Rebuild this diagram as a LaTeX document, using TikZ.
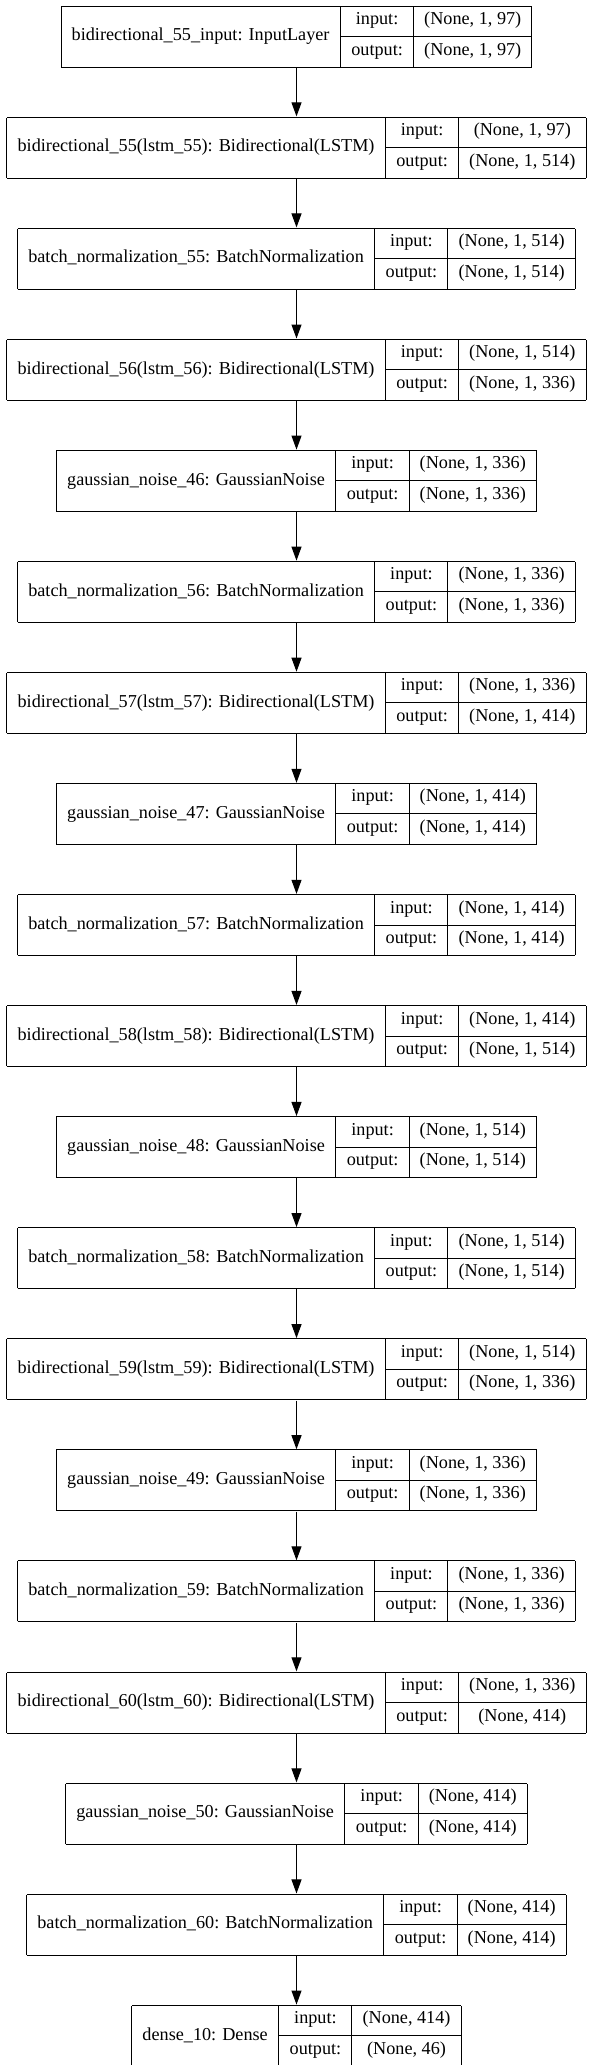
\documentclass[tikz,border=0pt]{standalone}
\usepackage{fontspec}
\setmainfont{Liberation Serif}
\usepackage{tikz}
\usetikzlibrary{positioning,arrows.meta}

\setlength{\tabcolsep}{10.67bp}
\setlength{\arrayrulewidth}{1bp}
\newcommand{\rowstrut}{\rule[-11.5bp]{0pt}{29.5bp}}
\newcommand{\layerbox}[3]{%
  \begin{tabular}{|c|@{}c@{}|}\hline
    #1 & \begin{tabular}{c|c}
      \rowstrut input: & #2\\\hline
      \rowstrut output: & #3
    \end{tabular}\\\hline
  \end{tabular}}

\begin{document}
\begin{tikzpicture}[node distance=48.67bp,
    layer/.style={inner sep=0pt, font=\fontsize{18.2bp}{21.8bp}\selectfont},
    flow/.style={-{Triangle[length=14bp,width=10bp]}, line width=1bp}]
  \useasboundingbox (0,0) rectangle (592bp,-2065bp);
  % input layer
  \node[layer] (in1) at (296.5bp,-36.5bp) {\layerbox{bidirectional\_55\_input: InputLayer}{(None, 1, 97)}{(None, 1, 97)}};
  \node[layer, below=of in1] (bd55) {\layerbox{bidirectional\_55(lstm\_55): Bidirectional(LSTM)}{(None, 1, 97)}{(None, 1, 514)}};
  \node[layer, below=of bd55] (bn55) {\layerbox{batch\_normalization\_55: BatchNormalization}{(None, 1, 514)}{(None, 1, 514)}};
  \node[layer, below=of bn55] (bd56) {\layerbox{bidirectional\_56(lstm\_56): Bidirectional(LSTM)}{(None, 1, 514)}{(None, 1, 336)}};
  \node[layer, below=of bd56] (gn46) {\layerbox{gaussian\_noise\_46: GaussianNoise}{(None, 1, 336)}{(None, 1, 336)}};
  \node[layer, below=of gn46] (bn56) {\layerbox{batch\_normalization\_56: BatchNormalization}{(None, 1, 336)}{(None, 1, 336)}};
  \node[layer, below=of bn56] (bd57) {\layerbox{bidirectional\_57(lstm\_57): Bidirectional(LSTM)}{(None, 1, 336)}{(None, 1, 414)}};
  \node[layer, below=of bd57] (gn47) {\layerbox{gaussian\_noise\_47: GaussianNoise}{(None, 1, 414)}{(None, 1, 414)}};
  \node[layer, below=of gn47] (bn57) {\layerbox{batch\_normalization\_57: BatchNormalization}{(None, 1, 414)}{(None, 1, 414)}};
  \node[layer, below=of bn57] (bd58) {\layerbox{bidirectional\_58(lstm\_58): Bidirectional(LSTM)}{(None, 1, 414)}{(None, 1, 514)}};
  \node[layer, below=of bd58] (gn48) {\layerbox{gaussian\_noise\_48: GaussianNoise}{(None, 1, 514)}{(None, 1, 514)}};
  \node[layer, below=of gn48] (bn58) {\layerbox{batch\_normalization\_58: BatchNormalization}{(None, 1, 514)}{(None, 1, 514)}};
  \node[layer, below=of bn58] (bd59) {\layerbox{bidirectional\_59(lstm\_59): Bidirectional(LSTM)}{(None, 1, 514)}{(None, 1, 336)}};
  \node[layer, below=of bd59] (gn49) {\layerbox{gaussian\_noise\_49: GaussianNoise}{(None, 1, 336)}{(None, 1, 336)}};
  \node[layer, below=of gn49] (bn59) {\layerbox{batch\_normalization\_59: BatchNormalization}{(None, 1, 336)}{(None, 1, 336)}};
  \node[layer, below=of bn59] (bd60) {\layerbox{bidirectional\_60(lstm\_60): Bidirectional(LSTM)}{(None, 1, 336)}{(None, 414)}};
  \node[layer, below=of bd60] (gn50) {\layerbox{gaussian\_noise\_50: GaussianNoise}{(None, 414)}{(None, 414)}};
  \node[layer, below=of gn50] (bn60) {\layerbox{batch\_normalization\_60: BatchNormalization}{(None, 414)}{(None, 414)}};
  % output
  \node[layer, below=of bn60] (dense10) {\layerbox{dense\_10: Dense}{(None, 414)}{(None, 46)}};

  \draw[flow] (in1) -- (bd55);
  \draw[flow] (bd55) -- (bn55);
  \draw[flow] (bn55) -- (bd56);
  \draw[flow] (bd56) -- (gn46);
  \draw[flow] (gn46) -- (bn56);
  \draw[flow] (bn56) -- (bd57);
  \draw[flow] (bd57) -- (gn47);
  \draw[flow] (gn47) -- (bn57);
  \draw[flow] (bn57) -- (bd58);
  \draw[flow] (bd58) -- (gn48);
  \draw[flow] (gn48) -- (bn58);
  \draw[flow] (bn58) -- (bd59);
  \draw[flow] (bd59) -- (gn49);
  \draw[flow] (gn49) -- (bn59);
  \draw[flow] (bn59) -- (bd60);
  \draw[flow] (bd60) -- (gn50);
  \draw[flow] (gn50) -- (bn60);
  \draw[flow] (bn60) -- (dense10);
\end{tikzpicture}
\end{document}
